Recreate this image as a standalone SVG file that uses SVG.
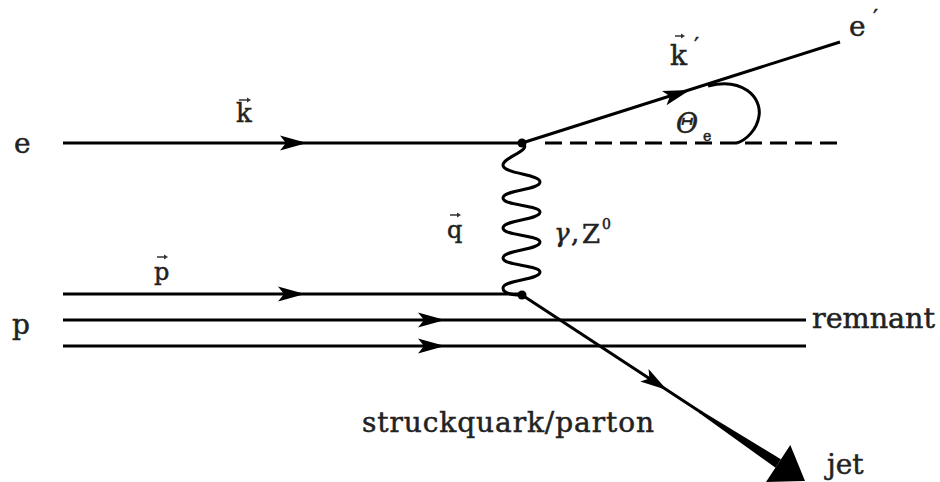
<svg xmlns="http://www.w3.org/2000/svg" width="940" height="482" viewBox="0 0 940 482">
<style>
.ln{stroke:#000;stroke-width:3;fill:none;stroke-linecap:butt}
.t{font-family:"DejaVu Serif","Liberation Serif",serif;fill:#222;stroke:#222;stroke-width:0.5}
.it{font-style:italic}
.va{stroke:#333;stroke-width:1.5;fill:none}
</style>
<defs>
<path id="ah" d="M0,0 L-27,-7.5 L-21,0 L-27,7.5 Z" fill="#000"/>
<path id="sa" d="M0,0 L-4,-2.5 L-4,2.5 Z" fill="#333"/>
</defs>
<rect width="940" height="482" fill="#fff"/>
<g id="connectors">
<line class="ln" x1="63" y1="143" x2="522" y2="143"/>
<line class="ln" x1="545" y1="143" x2="842" y2="143" stroke-dasharray="17 8"/>
<line class="ln" x1="522" y1="143" x2="840" y2="42"/>
<path class="ln" d="M708,86 C742,77 762,97 759,116 C757,130 746,140 737,143"/>
<path class="ln" stroke-width="3.8" d="M522,143 C534,150 503,157 503,165 C503,174 540,174 540,182 C540,190 503,190 503,198 C503,206 540,205 540,212 C540,220 503,220 503,228 C503,236 540,235 540,242 C540,250 503,250 503,258 C503,266 540,265 540,272 C540,280 503,280 503,288 C503,293 512,295 522,295"/>
<line class="ln" x1="63" y1="294" x2="522" y2="294"/>
<line class="ln" x1="63" y1="320" x2="806" y2="320"/>
<line class="ln" x1="63" y1="346" x2="806" y2="346"/>
<line class="ln" x1="522" y1="295" x2="702" y2="413"/>
<path d="M700.8,410.4 L780.9,459.3 L775.5,467.7 L699.2,413 Z" fill="#000"/>
<path d="M805,481 L766,482 L790.3,445.1 Z" fill="#000"/>
<use href="#ah" transform="translate(307,143)"/>
<use href="#ah" transform="translate(690,90) rotate(-17.6)"/>
<use href="#ah" transform="translate(305,294)"/>
<use href="#ah" transform="translate(445,320)"/>
<use href="#ah" transform="translate(445,346)"/>
<use href="#ah" transform="translate(667,390) rotate(33.3)"/>
<circle cx="522" cy="143" r="4.5" fill="#000"/>
<circle cx="522" cy="295" r="4.5" fill="#000"/>
</g>
<g id="labels">
<text class="t" x="14" y="153" font-size="28">e</text>
<text class="t" x="12" y="334" font-size="28">p</text>
<g id="k-vec"><text class="t" x="236" y="122" font-size="26">k</text><line class="va" x1="239" y1="100" x2="248" y2="100"/><use href="#sa" transform="translate(251,100)"/></g>
<g id="p-vec"><text class="t" x="154" y="280" font-size="24">p</text><line class="va" x1="157" y1="257" x2="165" y2="257"/><use href="#sa" transform="translate(168,257)"/></g>
<g id="q-vec"><text class="t" x="447" y="238" font-size="24">q</text><line class="va" x1="450" y1="215" x2="458" y2="215"/><use href="#sa" transform="translate(461,215)"/></g>
<g id="gamma-z"><text class="t it" x="554" y="242" font-size="26">γ</text><text class="t" x="571" y="242" font-size="26">,</text><text class="t" x="582" y="243" font-size="26">Z</text><text class="t" x="602" y="229" font-size="14">0</text></g>
<g id="k-prime"><text class="t" x="670" y="65" font-size="28">k</text><line class="va" x1="675" y1="36" x2="682" y2="36"/><use href="#sa" transform="translate(685,36)"/><text class="t" x="694" y="53" font-size="22">′</text></g>
<g id="e-prime"><text class="t" x="849" y="36" font-size="28">e</text><text class="t" x="873" y="25" font-size="22">′</text></g>
<g id="theta"><text class="t it" x="676" y="133" font-size="27">Θ</text><text class="t" x="703" y="141" font-size="14">e</text></g>
<text class="t" x="812" y="328" font-size="27" textLength="123" lengthAdjust="spacingAndGlyphs">remnant</text>
<text class="t" x="362" y="432" font-size="28" textLength="292">struckquark/parton</text>
<text class="t" x="827" y="474" font-size="28">jet</text>
</g>
</svg>
